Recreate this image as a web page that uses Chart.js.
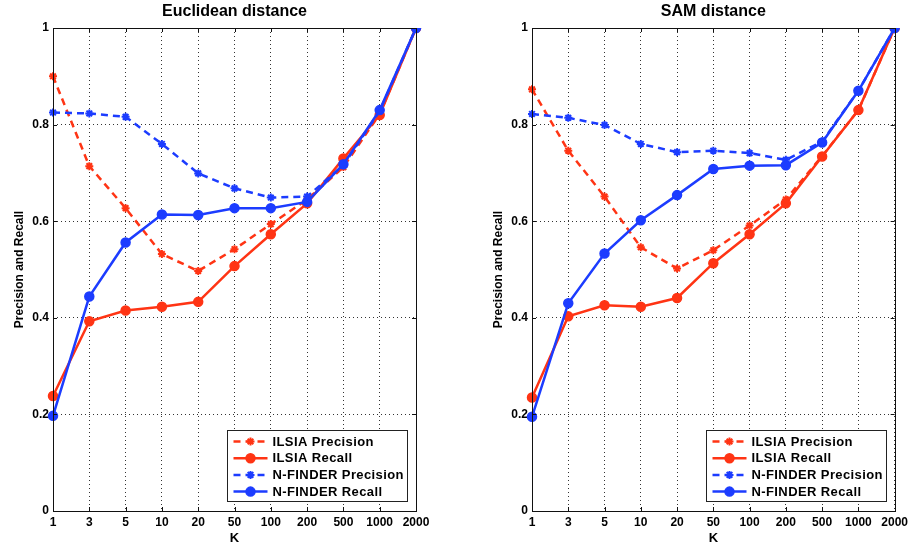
<!DOCTYPE html>
<html>
<head>
<meta charset="utf-8">
<script src="https://cdn.jsdelivr.net/npm/chart.js@4.4.1/dist/chart.umd.min.js"></script>
<style>
  html, body { margin: 0; padding: 0; background: #fff; }
  #wrap { position: relative; width: 912px; height: 550px; overflow: hidden; }
  .box { position: absolute; top: 0; height: 550px; }
</style>
</head>
<body>
<div id="wrap">
  <div class="box" style="left:0;width:456px"><canvas id="eucChart" width="456" height="550"></canvas></div>
  <div class="box" style="left:479px;width:433px"><canvas id="samChart" width="433" height="550"></canvas></div>
</div>
<script>
// x categories (K)
var kLabels = ['1', '3', '5', '10', '20', '50', '100', '200', '500', '1000', '2000'];
var yTicks = [0, 0.2, 0.4, 0.6, 0.8, 1];
var seriesNames = ['ILSIA Precision', 'ILSIA Recall', 'N-FINDER Precision', 'N-FINDER Recall'];

// Euclidean distance
var eucIlsiaPrecision = [0.900, 0.714, 0.627, 0.532, 0.497, 0.542, 0.594, 0.645, 0.712, 0.822, 1.0];
var eucIlsiaRecall    = [0.238, 0.393, 0.415, 0.423, 0.433, 0.507, 0.573, 0.637, 0.730, 0.820, 1.0];
var eucNfPrecision    = [0.825, 0.823, 0.816, 0.760, 0.699, 0.668, 0.649, 0.651, 0.716, 0.828, 1.0];
var eucNfRecall       = [0.197, 0.444, 0.556, 0.614, 0.613, 0.627, 0.627, 0.640, 0.718, 0.830, 1.0];

// SAM distance
var samIlsiaPrecision = [0.873, 0.746, 0.651, 0.546, 0.502, 0.540, 0.591, 0.645, 0.735, 0.830, 1.0];
var samIlsiaRecall    = [0.235, 0.403, 0.426, 0.423, 0.441, 0.513, 0.573, 0.637, 0.734, 0.830, 1.0];
var samNfPrecision    = [0.822, 0.814, 0.799, 0.760, 0.743, 0.746, 0.741, 0.727, 0.765, 0.870, 1.0];
var samNfRecall       = [0.195, 0.430, 0.533, 0.602, 0.654, 0.708, 0.715, 0.716, 0.763, 0.870, 1.0];

var RED = '#ff3414';
var BLUE = '#1c3cff';
var FONT = '"Liberation Sans", Arial, sans-serif';

function makeDatasets(p1, r1, p2, r2) {
  var sets = [
    { data: p1, color: RED, dash: [7, 5], style: 'star', order: 3 },
    { data: r1, color: RED, dash: [], style: 'circle', order: 2 },
    { data: p2, color: BLUE, dash: [7, 5], style: 'star', order: 1 },
    { data: r2, color: BLUE, dash: [], style: 'circle', order: 0 }
  ];
  return sets.map(function(s, i) {
    var star = s.style === 'star';
    return {
      label: seriesNames[i],
      data: s.data,
      order: s.order,
      borderColor: s.color,
      backgroundColor: s.color,
      borderWidth: 2.5,
      borderDash: s.dash,
      tension: 0,
      pointStyle: s.style,
      pointRadius: star ? 4 : 4.5,
      pointBorderWidth: star ? 2 : 1.5,
      pointBackgroundColor: s.color,
      pointBorderColor: s.color
    };
  });
}

// frame, inward ticks, title and the legend box drawn like the matlab figure
var figurePlugin = {
  id: 'figure',
  afterDraw: function(chart, args, opts) {
    var ctx = chart.ctx;
    var a = chart.chartArea;
    var xs = chart.scales.x, ys = chart.scales.y;
    var i, p;
    ctx.save();
    ctx.strokeStyle = '#111';
    ctx.lineWidth = 1;
    ctx.beginPath();
    for (i = 0; i < xs.ticks.length; i++) {
      p = Math.round(xs.getPixelForTick(i)) + 0.5;
      ctx.moveTo(p, a.bottom); ctx.lineTo(p, a.bottom - 4);
      ctx.moveTo(p, a.top); ctx.lineTo(p, a.top + 4);
    }
    for (i = 0; i < ys.ticks.length; i++) {
      p = Math.round(ys.getPixelForTick(i)) + 0.5;
      ctx.moveTo(a.left, p); ctx.lineTo(a.left + 4, p);
      ctx.moveTo(a.right, p); ctx.lineTo(a.right - 4, p);
    }
    ctx.stroke();
    ctx.strokeRect(Math.round(a.left) + 0.5, Math.round(a.top) + 0.5, Math.round(a.width), Math.round(a.height));

    // title
    ctx.fillStyle = '#000';
    ctx.font = 'bold 16px ' + FONT;
    ctx.textAlign = 'center';
    ctx.textBaseline = 'middle';
    ctx.fillText(opts.title, (a.left + a.right) / 2, 12);

    // legend
    var bw = 180, bh = 71;
    var bx = Math.round(a.right - 9 - bw) + 0.5;
    var by = Math.round(a.bottom - 10 - bh) + 0.5;
    ctx.fillStyle = '#fff';
    ctx.fillRect(bx, by, bw, bh);
    ctx.strokeStyle = '#222';
    ctx.strokeRect(bx, by, bw, bh);
    ctx.font = 'bold 13px ' + FONT;
    ctx.textAlign = 'left';
    ctx.letterSpacing = '0.4px';
    chart.data.datasets.forEach(function(ds, k) {
      var y = by + 11 + k * 16.7;
      var x0 = bx + 6, x1 = bx + 40;
      ctx.save();
      ctx.strokeStyle = ds.borderColor;
      ctx.lineWidth = ds.borderWidth;
      ctx.setLineDash(ds.borderDash);
      ctx.beginPath();
      ctx.moveTo(x0, y); ctx.lineTo(x1, y);
      ctx.stroke();
      ctx.setLineDash([]);
      ctx.fillStyle = ds.pointBackgroundColor;
      ctx.strokeStyle = ds.pointBorderColor;
      ctx.lineWidth = ds.pointBorderWidth;
      Chart.helpers.drawPoint(ctx, { pointStyle: ds.pointStyle, radius: ds.pointRadius, rotation: 0, borderWidth: ds.pointBorderWidth }, (x0 + x1) / 2, y);
      ctx.restore();
      ctx.fillStyle = '#000';
      ctx.fillText(ds.label, bx + 45, y + 0.5);
    });
    ctx.restore();
  }
};

function makeChart(id, title, sets, rightPad) {
  return new Chart(document.getElementById(id), {
    type: 'line',
    data: { labels: kLabels, datasets: sets },
    options: {
      responsive: false,
      animation: false,
      devicePixelRatio: 1,
      layout: { padding: { top: 28, right: rightPad, left: 0, bottom: 0 } },
      plugins: {
        legend: { display: false },
        tooltip: { enabled: false },
        title: { display: false },
        figure: { title: title }
      },
      scales: {
        x: {
          type: 'category',
          offset: false,
          afterFit: function(s) { s.height = 39; },
          grid: { color: 'rgba(0,0,0,0.8)', lineWidth: 1, drawTicks: false },
          border: { display: false, dash: [1, 3] },
          ticks: { color: '#000', padding: 4, maxRotation: 0, autoSkip: false, font: { family: FONT, size: 12, weight: 'bold' } },
          title: { display: true, text: 'K', color: '#000', padding: { top: 0, bottom: 4 }, font: { family: FONT, size: 13, weight: 'bold' } }
        },
        y: {
          min: 0,
          max: 1,
          afterFit: function(s) { s.width = 53; },
          afterBuildTicks: function(s) { s.ticks = yTicks.map(function(v) { return { value: v }; }); },
          grid: { color: 'rgba(0,0,0,0.8)', lineWidth: 1, drawTicks: false },
          border: { display: false, dash: [1, 3] },
          ticks: {
            color: '#000', padding: 4, font: { family: FONT, size: 12, weight: 'bold' },
            callback: function(v) { return String(Math.round(v * 10) / 10); }
          },
          title: { display: true, text: 'Precision and Recall', color: '#000', padding: { top: 12, bottom: 0 }, font: { family: FONT, size: 12, weight: 'bold' } }
        }
      }
    },
    plugins: [figurePlugin]
  });
}

makeChart('eucChart', 'Euclidean distance', makeDatasets(eucIlsiaPrecision, eucIlsiaRecall, eucNfPrecision, eucNfRecall), 40);
makeChart('samChart', 'SAM distance', makeDatasets(samIlsiaPrecision, samIlsiaRecall, samNfPrecision, samNfRecall), 17);
</script>
</body>
</html>
